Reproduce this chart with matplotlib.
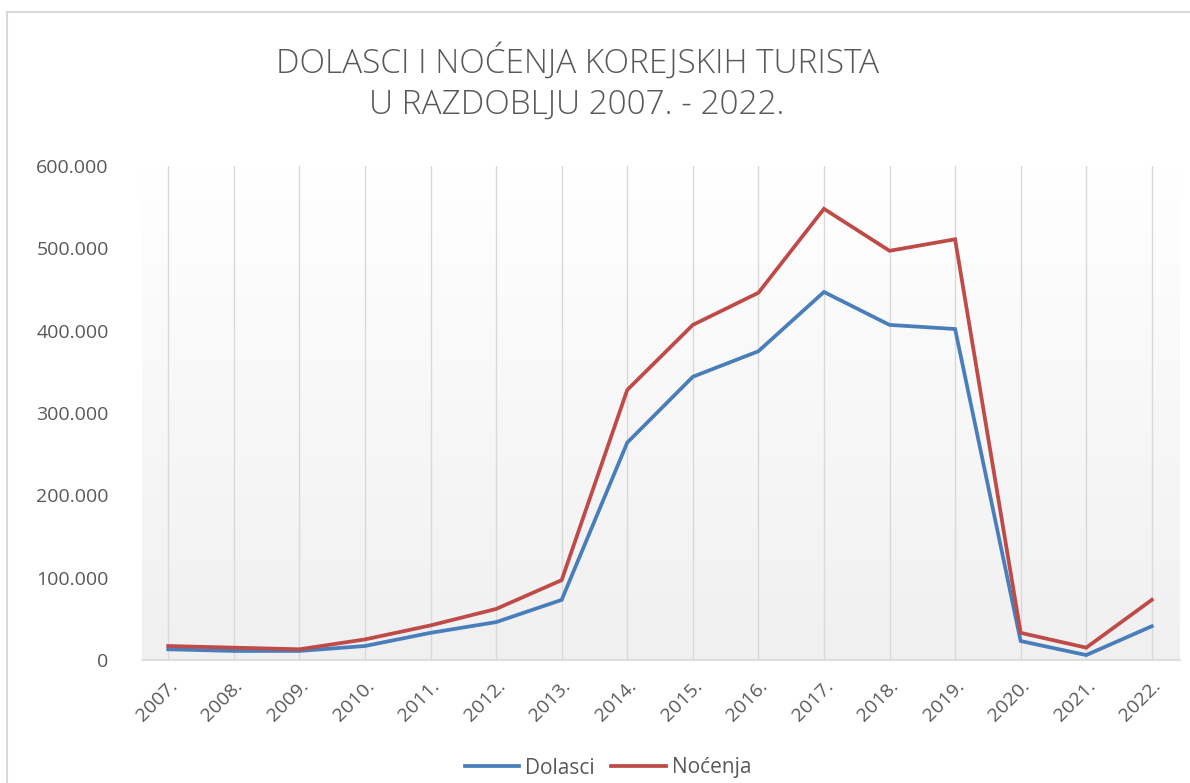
import numpy as np
import matplotlib.pyplot as plt
from matplotlib.colors import LinearSegmentedColormap
from matplotlib.patches import Rectangle
from matplotlib.ticker import FuncFormatter

plt.rcParams['font.family'] = ['Open Sans', 'DejaVu Sans']

years = ['2007.', '2008.', '2009.', '2010.', '2011.', '2012.', '2013.', '2014.',
         '2015.', '2016.', '2017.', '2018.', '2019.', '2020.', '2021.', '2022.']
dolasci = [13000, 11000, 11000, 17000, 33000, 46000, 73000, 264000,
           344000, 375000, 447000, 407000, 402000, 23000, 6000, 41000]
nocenja = [17000, 15000, 13000, 25000, 42000, 62000, 97000, 328000,
           407000, 446000, 548000, 497000, 511000, 33000, 15000, 73000]

text_col = '#595959'
grid_col = '#d9d9d9'

W, H = 1190, 783
fig = plt.figure(figsize=(W / 100, H / 100), dpi=100)
# chart area border (left and top visible)
fig.patches.append(Rectangle((7 / W, -0.1), 1.2, 1 - 12 / H + 0.1, transform=fig.transFigure,
                             fill=False, edgecolor='#d9d9d9', lw=1.5))

ax = fig.add_axes([142 / W, 1 - 660 / H, (1180 - 142) / W, (660 - 166) / H])

# plot area gradient, white at top to light gray at bottom
cmap = LinearSegmentedColormap.from_list('bg', ['#f0f0f0', '#ffffff'])
grad = np.linspace(0, 1, 256).reshape(-1, 1)
ax.imshow(grad, extent=[0, 1, 0, 1], transform=ax.transAxes, aspect='auto',
          cmap=cmap, origin='lower', zorder=0)

x = np.arange(len(years))
ax.plot(x, dolasci, color='#4a7ebb', lw=2.7, label='Dolasci', zorder=3, solid_joinstyle='miter')
ax.plot(x, nocenja, color='#be4b48', lw=2.7, label='Noćenja', zorder=3, solid_joinstyle='miter')

ax.set_xlim(-0.4, len(years) - 1 + 0.43)
ax.set_ylim(0, 600000)
ax.set_yticks(np.arange(0, 600001, 100000))
ax.yaxis.set_major_formatter(FuncFormatter(lambda v, p: f'{int(v):,}'.replace(',', '.')))
ax.set_xticks(x)
ax.set_xticklabels(years, rotation=45, ha='right', rotation_mode='anchor')

ax.xaxis.grid(True, color=grid_col, lw=1)
ax.set_axisbelow(True)
for s in ['top', 'right', 'left']:
    ax.spines[s].set_visible(False)
ax.spines['bottom'].set_color(grid_col)
ax.spines['bottom'].set_linewidth(1.2)
ax.tick_params(axis='y', length=0, pad=24, labelsize=14, labelcolor=text_col)
ax.tick_params(axis='x', length=0, pad=12, labelsize=14, labelcolor=text_col)

fig.text(577 / W, 1 - 83 / H, 'DOLASCI I NOĆENJA KOREJSKIH TURISTA\nU RAZDOBLJU 2007. - 2022.',
         ha='center', va='center', fontsize=24, color=text_col, linespacing=1.3,
         fontweight='light')

fig.legend(loc='center', bbox_to_anchor=(608 / W, 1 - 768 / H), ncol=2, frameon=False,
           fontsize=15, labelcolor=text_col, handlelength=2.6, handletextpad=0.3,
           columnspacing=0.8)

fig.savefig('out.png', dpi=100)
